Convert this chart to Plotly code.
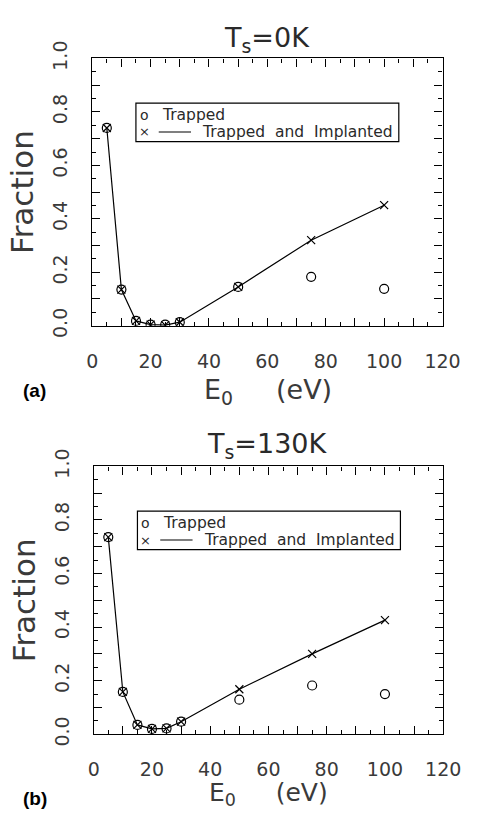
import plotly.graph_objects as go

W, H = 484, 825

# ---- data ----
energy = [5, 10, 15, 20, 25, 30, 50, 75, 100]
trapped_0K = [0.740, 0.135, 0.018, 0.004, 0.004, 0.013, 0.145, 0.183, 0.138]
trapped_impl_0K = [0.740, 0.135, 0.018, 0.004, 0.002, 0.013, 0.145, 0.320, 0.451]
trapped_130K = [0.736, 0.158, 0.035, 0.020, 0.022, 0.047, 0.129, 0.182, 0.150]
trapped_impl_130K = [0.736, 0.158, 0.035, 0.020, 0.022, 0.047, 0.168, 0.300, 0.426]

x_tickvals = [0, 10, 20, 30, 40, 50, 60, 70, 80, 90, 100, 110, 120]
x_ticktext = ["0", "", "20", "", "40", "", "60", "", "80", "", "100", "", "120"]
y_tickvals = [0.0, 0.1, 0.2, 0.3, 0.4, 0.5, 0.6, 0.7, 0.8, 0.9, 1.0]
y_ticktext = ["0.0", "", "0.2", "", "0.4", "", "0.6", "", "0.8", "", "1.0"]

titles = ["T<sub>s</sub>=0K", "T<sub>s</sub>=130K"]
panel_tags = ["(a)", "(b)"]

FONT = "DejaVu Sans"
TXT = "#2a2a2a"
LIGHT = "#3a3a3a"


def px(x):
    return x / W


def py(y):
    return 1 - y / H


fig = go.Figure()

panels = [
    dict(xd=(90.7, 459.3), yd=(42.0, 319.3), tr=trapped_0K, ti=trapped_impl_0K,
         title_y=22, xtitle_y=388, xtitle_size=27, tag_y=387, leg=(136.7, 413.3, 88.3, 128.3)),
    dict(xd=(92.3, 460.0), yd=(465.3, 743.3), tr=trapped_130K, ti=trapped_impl_130K,
         title_y=444, xtitle_y=805, xtitle_size=25, tag_y=810, leg=(138.3, 415.0, 511.7, 551.7)),
]

shapes = []
annotations = []
for i, p in enumerate(panels):
    xa = "x" if i == 0 else "x2"
    ya = "y" if i == 0 else "y2"
    fig.add_trace(go.Scatter(
        x=energy, y=p["ti"], mode="lines+markers", xaxis=xa, yaxis=ya,
        line=dict(color="black", width=1.2),
        marker=dict(symbol="x-thin", size=8, line=dict(color="black", width=1.2)),
        showlegend=False))
    fig.add_trace(go.Scatter(
        x=energy, y=p["tr"], mode="markers", xaxis=xa, yaxis=ya,
        marker=dict(symbol="circle-open", size=9, color="black", line=dict(color="black", width=1.2)),
        showlegend=False))

    axkw = dict(showline=True, linecolor="black", linewidth=1.3, mirror="ticks",
                ticks="inside", ticklen=8, tickwidth=1, tickcolor="black",
                showgrid=False, zeroline=False,
                tickfont=dict(family=FONT, size=19, color=LIGHT))
    xkey = "xaxis" if i == 0 else "xaxis2"
    ykey = "yaxis" if i == 0 else "yaxis2"
    fig.update_layout(**{
        xkey: dict(domain=[px(p["xd"][0]), px(p["xd"][1])], range=[0, 120],
                   anchor=ya, tickmode="array", tickvals=x_tickvals, ticktext=x_ticktext,
                   minor=dict(ticks="inside", dtick=5, ticklen=4, tickcolor="black", tickwidth=1),
                   ticklabelstandoff=18, **axkw),
        ykey: dict(domain=[py(p["yd"][1]), py(p["yd"][0])], range=[0, 1.0],
                   anchor=xa, tickmode="array", tickvals=y_tickvals, ticktext=y_ticktext,
                   tickangle=-90,
                   minor=dict(ticks="inside", dtick=0.05, ticklen=4, tickcolor="black", tickwidth=1),
                   ticklabelstandoff=16,
                   title=dict(text="Fraction", font=dict(family=FONT, size=31, color=LIGHT),
                              standoff=6),
                   **axkw),
    })

    # panel title
    annotations.append(dict(text=titles[i], x=px(275), y=py(p["title_y"]), xref="paper", yref="paper",
                            showarrow=False, xanchor="center", yanchor="middle",
                            font=dict(family=FONT, size=27, color=TXT)))
    # x-axis title
    annotations.append(dict(text="E<sub>0</sub>     (eV)", x=px(276), y=py(p["xtitle_y"]),
                            xref="paper", yref="paper", showarrow=False,
                            xanchor="center", yanchor="middle",
                            font=dict(family=FONT, size=p["xtitle_size"], color=LIGHT)))
    # panel tag
    annotations.append(dict(text="<b>" + panel_tags[i] + "</b>", x=px(16), y=py(p["tag_y"]),
                            xref="paper", yref="paper", showarrow=False,
                            xanchor="left", yanchor="middle",
                            font=dict(family="Liberation Sans", size=19, color="black")))

    # custom legend box
    x0, x1, y0, y1 = p["leg"]
    shapes.append(dict(type="rect", xref="paper", yref="paper",
                       x0=px(x0), x1=px(x1), y0=py(y1), y1=py(y0),
                       line=dict(color="black", width=1.2), fillcolor="white"))
    r1 = y0 + 12
    r2 = y0 + 30
    annotations.append(dict(text="o", x=px(x0 + 9), y=py(r1), xref="paper", yref="paper",
                            showarrow=False, xanchor="center", yanchor="middle",
                            font=dict(family=FONT, size=14, color=TXT)))
    annotations.append(dict(text="Trapped", x=px(x0 + 25), y=py(r1), xref="paper", yref="paper",
                            showarrow=False, xanchor="left", yanchor="middle",
                            font=dict(family=FONT, size=15.5, color=TXT)))
    annotations.append(dict(text="×", x=px(x0 + 9), y=py(r2), xref="paper", yref="paper",
                            showarrow=False, xanchor="center", yanchor="middle",
                            font=dict(family=FONT, size=13, color=TXT)))
    shapes.append(dict(type="line", xref="paper", yref="paper",
                       x0=px(x0 + 24), x1=px(x0 + 58), y0=py(r2), y1=py(r2),
                       line=dict(color="black", width=1.2)))
    annotations.append(dict(text="Trapped  and  Implanted", x=px(x1 - 4), y=py(r2),
                            xref="paper", yref="paper",
                            showarrow=False, xanchor="right", yanchor="middle",
                            font=dict(family=FONT, size=15.5, color=TXT)))

fig.update_layout(width=W, height=H, margin=dict(l=0, r=0, t=0, b=0),
                  paper_bgcolor="white", plot_bgcolor="white",
                  shapes=shapes, annotations=annotations, showlegend=False)

fig.write_html("out.html")
